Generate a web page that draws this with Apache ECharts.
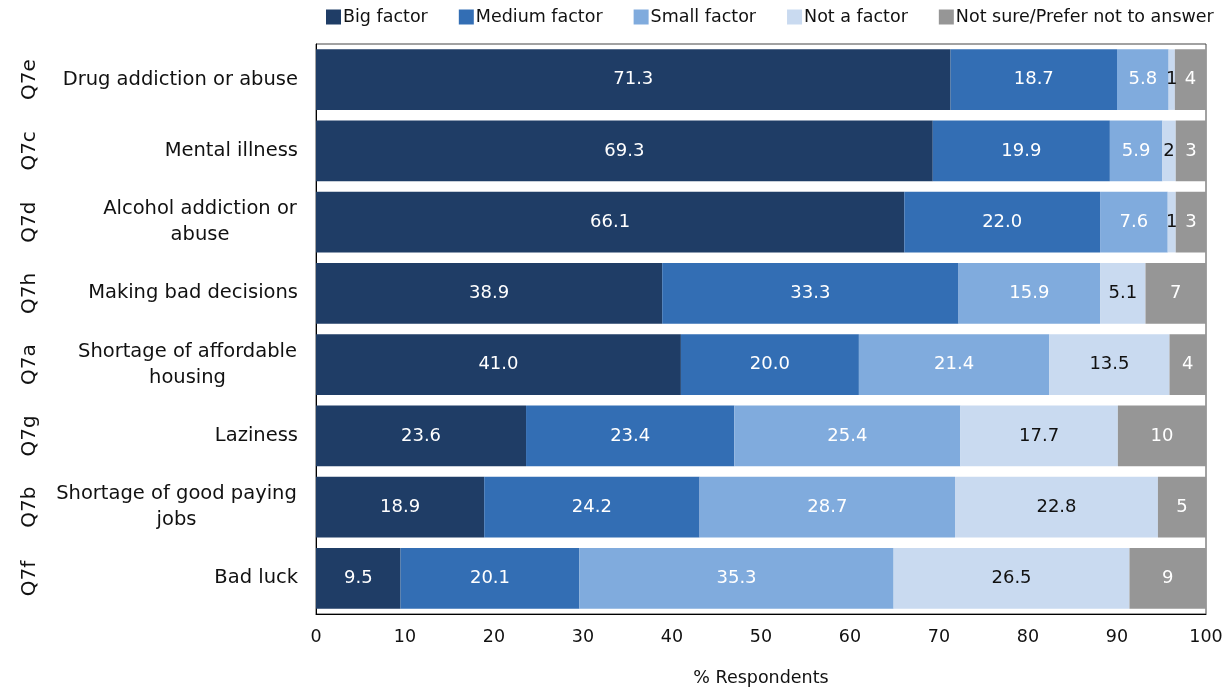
<!DOCTYPE html>
<html>
<head>
<meta charset="utf-8">
<script src="https://cdn.jsdelivr.net/npm/echarts@6/dist/echarts.min.js"></script>
<style>
  html, body { margin: 0; padding: 0; background: #ffffff; }
  #chart { width: 1229px; height: 688px; }
</style>
</head>
<body>
<div id="chart"></div>
<script>
// Survey items, top to bottom
const codes = ['Q7e', 'Q7c', 'Q7d', 'Q7h', 'Q7a', 'Q7g', 'Q7b', 'Q7f'];
const items = [
  'Drug addiction or abuse',
  'Mental illness',
  'Alcohol addiction or\nabuse',
  'Making bad decisions',
  'Shortage of affordable\nhousing',
  'Laziness',
  'Shortage of good paying\njobs',
  'Bad luck'
];

// Percent of respondents per answer
const bigFactor    = [71.3, 69.3, 66.1, 38.9, 41.0, 23.6, 18.9, 9.5];
const mediumFactor = [18.7, 19.9, 22.0, 33.3, 20.0, 23.4, 24.2, 20.1];
const smallFactor  = [5.8, 5.9, 7.6, 15.9, 21.4, 25.4, 28.7, 35.3];
const notAFactor   = [0.7, 1.5, 0.9, 5.1, 13.5, 17.7, 22.8, 26.5];
const notSure      = [3.5, 3.4, 3.4, 6.8, 4.1, 9.9, 5.4, 8.6];

const xTicks = [0, 10, 20, 30, 40, 50, 60, 70, 80, 90, 100];

const FONT = 'DejaVu Sans';
const FS = 18;       // bar value labels
const CAT_FS = 19.5; // item names

// widths of multi-line item labels so the lines can be centred on each other
const ctx = document.createElement('canvas').getContext('2d');
ctx.font = CAT_FS + 'px "' + FONT + '"';
const rich = {};
const styleOf = {};
items.forEach((name, i) => {
  if (name.indexOf('\n') >= 0) {
    const w = Math.max(...name.split('\n').map(l => ctx.measureText(l).width));
    rich['w' + i] = { width: Math.ceil(w) + 2, align: 'center', fontSize: CAT_FS, fontFamily: FONT, color: '#111', lineHeight: 26 };
    styleOf[name] = 'w' + i;
  }
});

const fmt1 = v => v.toFixed(1);
const fmtSmall = v => (v < 3 ? String(Math.round(v)) : v.toFixed(1));
const fmtInt = v => String(Math.round(v));

function series(name, data, color, labelColor, formatter) {
  return {
    name: name,
    type: 'bar',
    stack: 'total',
    barCategoryGap: '15%',
    data: data,
    itemStyle: { color: color },
    label: {
      show: true,
      position: 'inside',
      color: labelColor,
      fontFamily: FONT,
      fontSize: FS,
      formatter: p => formatter(p.value)
    },
    emphasis: { disabled: true }
  };
}

const chart = echarts.init(document.getElementById('chart'), null, { renderer: 'canvas' });
chart.setOption({
  animation: false,
  textStyle: { fontFamily: FONT },
  legend: {
    top: 3,
    left: 321,
    itemWidth: 15,
    itemHeight: 15,
    itemGap: 31,
    icon: 'rect',
    textStyle: { fontFamily: FONT, fontSize: 17.5, color: '#111', padding: [0, 0, 0, -3] }
  },
  grid: {
    left: 316, right: 23, top: 44, bottom: 74,
    outerBoundsMode: 'none',
    containLabel: false,
    show: true, borderColor: '#444', borderWidth: 1
  },
  xAxis: {
    type: 'value',
    min: xTicks[0],
    max: xTicks[xTicks.length - 1],
    interval: 10,
    name: '% Respondents',
    nameLocation: 'middle',
    nameGap: 55,
    nameTextStyle: { fontFamily: FONT, fontSize: 17.5, color: '#111' },
    axisLine: { show: true, lineStyle: { color: '#000' } },
    axisTick: { show: false },
    splitLine: { show: false },
    axisLabel: { fontFamily: FONT, fontSize: 17.5, color: '#111', margin: 14 }
  },
  yAxis: [
    {
      type: 'category',
      inverse: true,
      data: items,
      axisLine: { show: true, lineStyle: { color: '#000' } },
      axisTick: { show: false },
      axisLabel: {
        margin: 18,
        fontFamily: FONT,
        fontSize: CAT_FS,
        color: '#111',
        lineHeight: 26,
        rich: rich,
        formatter: v => styleOf[v]
          ? v.split('\n').map(l => '{' + styleOf[v] + '|' + l + '}').join('\n')
          : v
      }
    },
    {
      type: 'category',
      inverse: true,
      position: 'left',
      offset: 268,
      data: codes,
      axisLine: { show: false },
      axisTick: { show: false },
      axisLabel: { rotate: 90, margin: 8, fontFamily: FONT, fontSize: 20, color: '#111' }
    }
  ],
  series: [
    series('Big factor', bigFactor, '#1F3D66', '#ffffff', fmt1),
    series('Medium factor', mediumFactor, '#336EB4', '#ffffff', fmt1),
    series('Small factor', smallFactor, '#80ABDD', '#ffffff', fmt1),
    series('Not a factor', notAFactor, '#C9DAF0', '#111111', fmtSmall),
    series('Not sure/Prefer not to answer', notSure, '#969696', '#ffffff', fmtInt)
  ]
});
</script>
</body>
</html>
